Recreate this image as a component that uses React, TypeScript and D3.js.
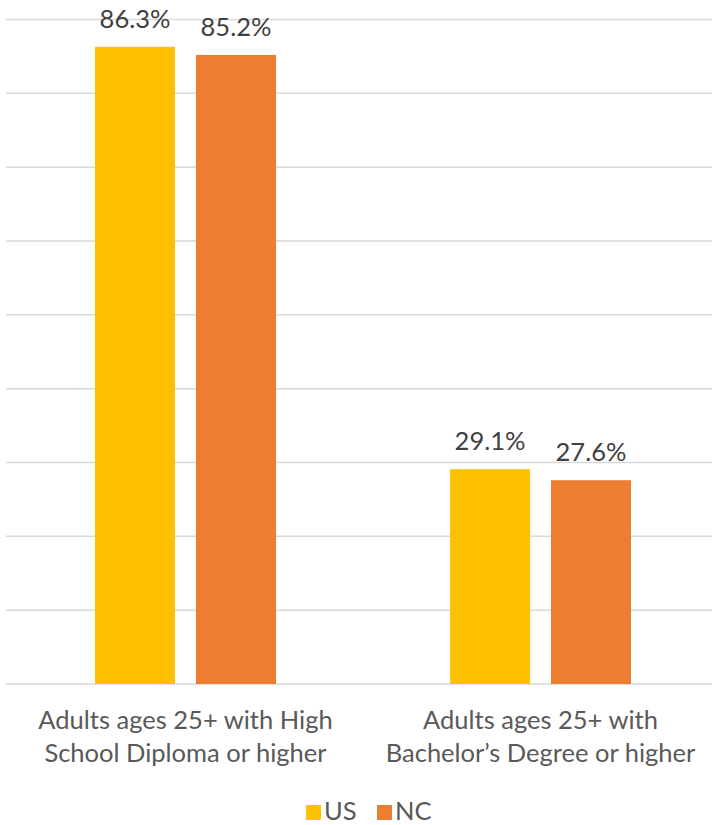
import React from "react";
import * as d3 from "d3";

const categories: string[][] = [
  ["Adults ages 25+ with High", "School Diploma or higher"],
  ["Adults ages 25+ with", "Bachelor\u2019s Degree or higher"],
];
const seriesNames = ["US", "NC"];
const usValues = [86.3, 29.1];
const ncValues = [85.2, 27.6];
const yTicks = [0, 10, 20, 30, 40, 50, 60, 70, 80, 90];
const colors = ["#FFC000", "#ED7D31"];

const W = 712;
const H = 825;
const FONT = "Lato, 'Open Sans', sans-serif";
const FS = 25.5;

export default function App() {
  const y = d3.scaleLinear().domain([0, 90]).range([684, 19.5]);
  const x0 = d3
    .scaleBand<number>()
    .domain(categories.map((_, i) => i))
    .range([8, 718]);
  const bw = x0.bandwidth();
  const barW = bw * 0.2254;
  const gap = bw * 0.059;
  const series = [usValues, ncValues];

  return (
    <svg
      width={W}
      height={H}
      style={{ position: "absolute", left: 0, top: 0, background: "#fff" }}
      fontFamily={FONT}
    >
      {yTicks.map((t) => (
        <line
          key={t}
          x1={6}
          x2={712}
          y1={y(t)}
          y2={y(t)}
          stroke="#d9d9d9"
          strokeWidth={1.5}
        />
      ))}
      {categories.map((cat, ci) => {
        const center = (x0(ci) as number) + bw / 2;
        const groupW = barW * 2 + gap;
        const start = center - groupW / 2;
        return (
          <g key={ci}>
            {series.map((vals, si) => {
              const bx = start + si * (barW + gap);
              const v = vals[ci];
              return (
                <g key={si}>
                  <rect
                    x={bx}
                    y={y(v)}
                    width={barW}
                    height={y(0) - y(v)}
                    fill={colors[si]}
                  />
                  <text
                    x={bx + barW / 2}
                    y={y(v) - 19}
                    textAnchor="middle"
                    fontSize={FS}
                    fill="#404040"
                  >
                    {v.toFixed(1) + "%"}
                  </text>
                </g>
              );
            })}
            {cat.map((line, li) => (
              <text
                key={li}
                x={center}
                y={729 + li * 33}
                textAnchor="middle"
                fontSize={FS}
                fill="#595959"
              >
                {line}
              </text>
            ))}
          </g>
        );
      })}
      {seriesNames.map((name, i) => {
        const lx = [306, 377][i];
        return (
          <g key={name}>
            <rect x={lx} y={805} width={15} height={15} fill={colors[i]} />
            <text x={lx + 18} y={820} fontSize={FS} fill="#595959">
              {name}
            </text>
          </g>
        );
      })}
    </svg>
  );
}
